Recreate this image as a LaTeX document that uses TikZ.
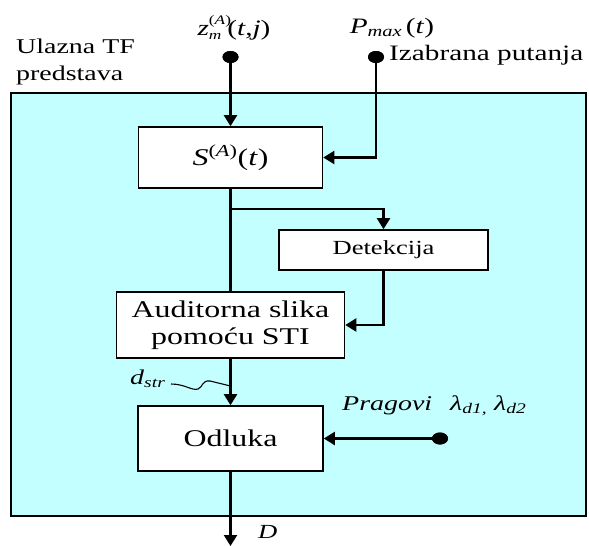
\documentclass[tikz,border=0pt]{standalone}
\usepackage{fontspec}
\setmainfont{Liberation Serif}[FakeStretch=1.33]
\usetikzlibrary{arrows.meta,shapes.geometric}
\definecolor{panel}{RGB}{196,255,255}
\newcommand{\fsz}[1]{\fontsize{#1}{#1}\selectfont}
\begin{document}
\begin{tikzpicture}[x=1pt,y=-1pt,
  blk/.style={draw,line width=1.6pt,fill=white,inner sep=0pt},
  conn/.style={line width=2.2pt},
  arr/.style={conn,-{Triangle[width=13pt,length=11pt]}},
  dotnode/.style={ellipse,fill=black,inner sep=0pt,minimum width=16pt,minimum height=12pt},
  lbl/.style={inner sep=0pt}]
\useasboundingbox (0,0) rectangle (589,546);
\draw[line width=1.4pt,fill=panel] (11,93) rectangle (586,516);

% blocks
\node[blk,minimum width=184pt,minimum height=61pt] (S) at (230.5,157.5)
  {\fsz{24}\textit{S}\textsuperscript{(\textit{A})}(\textit{t})};
\node[blk,minimum width=209pt,minimum height=40pt] (Det) at (383.5,250)
  {\fsz{20}Detekcija};
\node[blk,minimum width=228pt,minimum height=66pt,align=center,
  font=\fontsize{24}{27}\selectfont] (Aud) at (230.5,325)
  {Auditorna slika\\pomoću STI};
\node[blk,minimum width=185pt,minimum height=65pt] (Odl) at (230.5,438.5)
  {\fsz{24}Odluka};

% input dots
\node[dotnode] (zdot) at (230.5,57) {};
\node[dotnode] (pdot) at (376,57) {};
\node[dotnode] (gdot) at (440,438.5) {};
\coordinate (dend) at (230.5,546);
\coordinate (wstart) at (171,384);
\coordinate (wend) at (230.5,386);

% connectors
\draw[arr] (zdot) -- (S.north);
\draw[arr] (pdot.center) |- (S.east);
\draw[conn] (S.south) -- (Aud.north);
\draw[arr] (S.south) ++(0,20) -| (Det.north);
\draw[arr] (Det.south) |- (Aud.east);
\draw[arr] (Aud.south) -- (Odl.north);
\draw[arr] (gdot.center) -- (Odl.east);
\draw[arr] (Odl.south) -- (dend);
\draw[line width=1.1pt] (wstart) .. controls (185,384) and (192,391) .. (198,389)
  .. controls (203,387) and (202,380) .. (210,381) -- (wend);

% redraw dots on top
\node[dotnode] at (zdot) {};
\node[dotnode] at (pdot) {};
\node[dotnode] at (gdot) {};

% labels
\node[lbl,anchor=base west] (ul1) at (16,53) {\fsz{21}Ulazna TF};
\node[lbl,anchor=base west] (ul2) at (16,80) {\fsz{21}predstava};
\node[lbl,anchor=base] (zl) at (234,35)
  {\fsz{22}\textit{z}\makebox[0pt][l]{\raisebox{11pt}{\fsz{13}(\textit{A})}}\raisebox{-4pt}{\fsz{13}\textit{m}}\hspace{6pt}(\textit{t},\textit{j})};
\node[lbl,anchor=base] (pl) at (392,33)
  {\fsz{22}\textit{P}\textsubscript{\textit{max}}\,(\textit{t})};
\node[lbl,anchor=base west] (iz) at (389,60) {\fsz{22}Izabrana putanja};
\node[lbl,anchor=base west] (pr) at (342,410) {\fsz{21}\textit{Pragovi}};
\node[lbl,anchor=base west] (lam) at (450,410)
  {\fsz{21}\textit{λ}\textsubscript{\textit{d1,}} \textit{λ}\textsubscript{\textit{d2}}};
\node[lbl,anchor=base west] (dl) at (130,384) {\fsz{21}\textit{d}\textsubscript{\textit{str}}};
\node[lbl,anchor=base west] (Dl) at (258,538) {\fsz{20}\textit{D}};
\end{tikzpicture}
\end{document}
